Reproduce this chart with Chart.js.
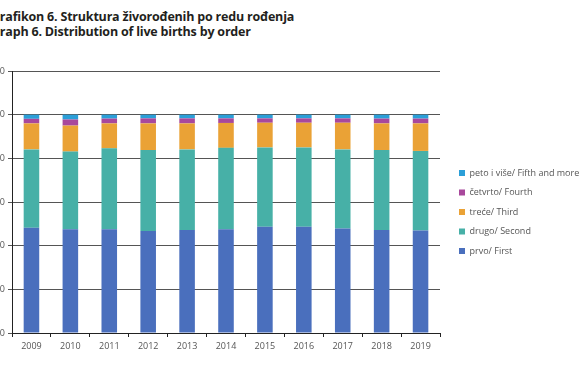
<!DOCTYPE html>
<html>
<head>
<meta charset="utf-8">
<script src="https://cdn.jsdelivr.net/npm/chart.js@4"></script>
<style>
  html, body { margin: 0; padding: 0; width: 581px; height: 387px; overflow: hidden; background: #fff; position: relative; }
  #title { position: absolute; left: -9px; top: 9px; font-family: "Open Sans", sans-serif; font-weight: 700; font-size: 12.5px; line-height: 15px; color: #231f20; white-space: nowrap; letter-spacing: -0.2px; }
  #wrap { position: absolute; left: -40px; top: 0; width: 621px; height: 387px; }
</style>
</head>
<body>
<div id="title">Grafikon 6. Struktura živorođenih po redu rođenja<br>Graph 6. Distribution of live births by order</div>
<div id="wrap"><canvas id="c" width="621" height="387"></canvas></div>
<script>
const years = ['2009','2010','2011','2012','2013','2014','2015','2016','2017','2018','2019'];
const seriesNames = ['prvo/ First','drugo/ Second','treće/ Third','četvrto/ Fourth','peto i više/ Fifth and more'];
const first  = [48.2, 47.5, 47.5, 46.7, 47.2, 47.5, 48.7, 48.7, 47.9, 47.2, 46.9];
const second = [35.9, 35.6, 37.1, 37.1, 36.9, 37.3, 36.3, 36.3, 36.2, 36.6, 36.5];
const third  = [11.9, 11.9, 11.4, 12.2, 11.9, 11.4, 11.3, 11.3, 12.2, 12.2, 12.6];
const fourth = [ 2.1,  2.8,  2.2,  2.3,  2.3,  2.1,  2.0,  2.0,  2.0,  2.2,  2.2];
const fifth  = [ 1.9,  2.2,  1.8,  1.7,  1.7,  1.7,  1.7,  1.7,  1.7,  1.8,  1.8];
const yTicks = [0, 20, 40, 60, 80, 100, 120];

const colors = ['#4a6fbd', '#47b0a7', '#eaa236', '#a8489c', '#2b9fd8'];
const values = [first, second, third, fourth, fifth];

const legendPlacer = {
  id: 'legendPlacer',
  beforeLayout(chart) {
    const lg = chart.legend;
    if (lg && !lg._patched) {
      const orig = lg.fit;
      lg.fit = function () { orig.call(this); if (this.options.position === 'right') this.width = 141; };
      lg._patched = true;
    }
  },
  afterLayout(chart) {
    const lg = chart.legend;
    if (!lg) return;
    const pad = lg.options.labels.padding;
    lg.left = 459 + 40 - pad;
    lg.right = lg.left + 141;
    lg.top = 158;
    lg.bottom = 340;
    lg.height = lg.bottom - lg.top;
  }
};

new Chart(document.getElementById('c'), {
  type: 'bar',
  data: {
    labels: years,
    datasets: values.map((v, i) => ({
      label: seriesNames[i],
      data: v,
      backgroundColor: colors[i],
      borderWidth: 0,
      categoryPercentage: 1.0,
      barPercentage: 0.4
    }))
  },
  options: {
    responsive: false,
    animation: false,
    layout: { padding: { top: 71, bottom: 24, left: 0, right: 0 } },
    plugins: {
      tooltip: { enabled: false },
      title: { display: false },
      legend: {
        display: true,
        position: 'right',
        align: 'start',
        fullSize: false,
        reverse: true,
        labels: {
          boxWidth: 6,
          boxHeight: 6,
          padding: 10.5,
          color: '#555',
          font: { family: 'Open Sans', size: 9 }
        }
      }
    },
    scales: {
      x: {
        stacked: true,
        afterFit(s) { s.height = 30; },
        grid: { display: true, drawOnChartArea: false, drawTicks: true, tickLength: 4, color: '#222', offset: true },
        border: { display: true, color: '#222', width: 1 },
        ticks: { color: '#555', padding: 4, font: { family: 'Open Sans', size: 9 } }
      },
      y: {
        stacked: true,
        min: 0,
        max: 120,
        afterFit(s) { s.width = 52; },
        afterBuildTicks(s) { s.ticks = yTicks.map(v => ({ value: v })); },
        grid: { color: '#555', lineWidth: 1, tickLength: 4, drawTicks: true },
        border: { display: true, color: '#222', width: 1 },
        ticks: { color: '#555', padding: 3, font: { family: 'Open Sans', size: 9 } }
      }
    }
  },
  plugins: [legendPlacer]
});
</script>
</body>
</html>
